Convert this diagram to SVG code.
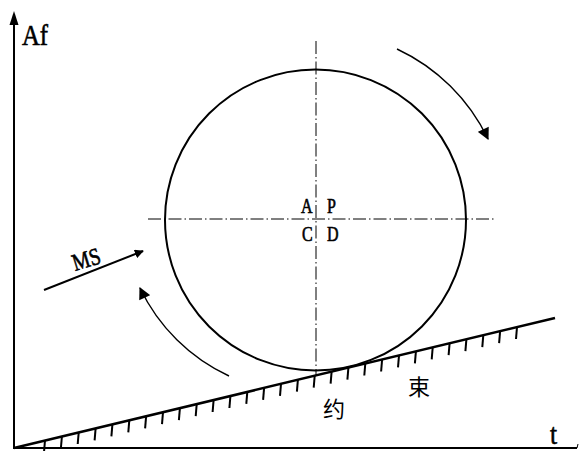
<svg xmlns="http://www.w3.org/2000/svg" width="579" height="451" viewBox="0 0 579 451">
<style>
.lbl{font-family:"Liberation Serif","DejaVu Serif",serif;fill:#000;stroke:#000;stroke-width:0.6}
.cjk{font-family:"Noto Sans CJK SC",sans-serif;fill:#000}
.ax{stroke:#000;stroke-width:2;fill:none}
.cl{stroke:#000;stroke-width:1;fill:none;stroke-dasharray:13 3 1.5 3}
.arc{stroke:#000;stroke-width:1.4;fill:none}
.tk{stroke:#000;stroke-width:2}
</style>
<defs>
<marker id="ah" viewBox="0 0 10 10" refX="9" refY="5" markerWidth="9" markerHeight="9" markerUnits="userSpaceOnUse" orient="auto">
<path d="M0,0 L10,5 L0,10 z" fill="#000"/>
</marker>
<marker id="ah2" viewBox="0 0 10 10" refX="9" refY="5" markerWidth="14" markerHeight="12" markerUnits="userSpaceOnUse" orient="auto">
<path d="M0,0 L10,5 L0,10 z" fill="#000"/>
</marker>
</defs>
<rect width="579" height="451" fill="#fff"/>
<g id="axes">
<line class="ax" x1="14" y1="449" x2="14" y2="22"/>
<path d="M14,11 L18.5,25 L9.5,25 z" fill="#000"/>
<line class="ax" x1="13" y1="448" x2="577" y2="448"/>
<line x1="577" y1="448" x2="578" y2="444" stroke="#000" stroke-width="1"/>
<text class="lbl" font-size="29" transform="translate(22,45) scale(0.85,1)">Af</text>
<text class="lbl" font-size="30" transform="translate(550,444) scale(0.85,1)">t</text>
</g>
<g id="constraint">
<line x1="14" y1="448" x2="555" y2="318" stroke="#000" stroke-width="2.5"/>
<g id="hatch" class="tk">
<line x1="45" y1="440.5" x2="44" y2="452"/>
<line x1="61.9" y1="436.5" x2="60.9" y2="448"/>
<line x1="78.7" y1="432.5" x2="77.7" y2="444"/>
<line x1="95.6" y1="428.4" x2="94.6" y2="440.4"/>
<line x1="112.4" y1="424.4" x2="111.4" y2="436.4"/>
<line x1="129.3" y1="420.3" x2="128.3" y2="432.3"/>
<line x1="146.1" y1="416.3" x2="145.1" y2="428.3"/>
<line x1="163" y1="412.2" x2="162" y2="424.2"/>
<line x1="179.9" y1="408.1" x2="178.9" y2="420.1"/>
<line x1="196.7" y1="404.1" x2="195.7" y2="416.1"/>
<line x1="213.6" y1="400" x2="212.6" y2="412"/>
<line x1="230.4" y1="396" x2="229.4" y2="408"/>
<line x1="247.3" y1="391.9" x2="246.3" y2="403.9"/>
<line x1="264.1" y1="387.9" x2="263.1" y2="399.9"/>
<line x1="281" y1="383.8" x2="280" y2="395.8"/>
<line x1="297.9" y1="379.7" x2="296.9" y2="391.7"/>
<line x1="314.7" y1="375.7" x2="313.7" y2="387.7"/>
<line x1="331.6" y1="371.6" x2="330.6" y2="383.6"/>
<line x1="348.4" y1="367.6" x2="347.4" y2="379.6"/>
<line x1="365.3" y1="363.5" x2="364.3" y2="375.5"/>
<line x1="382.1" y1="359.5" x2="381.1" y2="371.5"/>
<line x1="399" y1="355.4" x2="398" y2="367.4"/>
<line x1="415.9" y1="351.3" x2="414.9" y2="363.3"/>
<line x1="432.7" y1="347.3" x2="431.7" y2="359.3"/>
<line x1="449.6" y1="343.2" x2="448.6" y2="355.2"/>
<line x1="466.4" y1="339.2" x2="465.4" y2="351.2"/>
<line x1="483.3" y1="335.1" x2="482.3" y2="347.1"/>
<line x1="500.1" y1="331.1" x2="499.1" y2="343.1"/>
<line x1="517" y1="327" x2="516" y2="339"/>
</g>
<text class="cjk" x="323" y="417" font-size="22">约</text>
<text class="cjk" x="408" y="395" font-size="22">束</text>
</g>
<g id="circle">
<circle cx="315.5" cy="220" r="150.5" fill="none" stroke="#000" stroke-width="2"/>
<line class="cl" x1="148" y1="219" x2="496" y2="219"/>
<line class="cl" x1="316" y1="41" x2="316" y2="376"/>
<text class="lbl" font-size="20" transform="translate(301,213) scale(0.8,1)">A</text>
<text class="lbl" font-size="20" transform="translate(327,213) scale(0.8,1)">P</text>
<text class="lbl" font-size="20" transform="translate(302,241) scale(0.8,1)">C</text>
<text class="lbl" font-size="20" transform="translate(327,241) scale(0.8,1)">D</text>
</g>
<g id="connectors">
<path class="arc" d="M397,49 A190,190 0 0 1 488,139" marker-end="url(#ah2)"/>
<path class="arc" d="M229,376 A185,185 0 0 1 140,288" marker-end="url(#ah2)"/>
<line x1="44" y1="290" x2="143" y2="251" stroke="#000" stroke-width="2" marker-end="url(#ah)"/>
<text class="lbl" font-size="24" transform="translate(75,271) rotate(-17) scale(0.82,1)">MS</text>
</g>
</svg>
